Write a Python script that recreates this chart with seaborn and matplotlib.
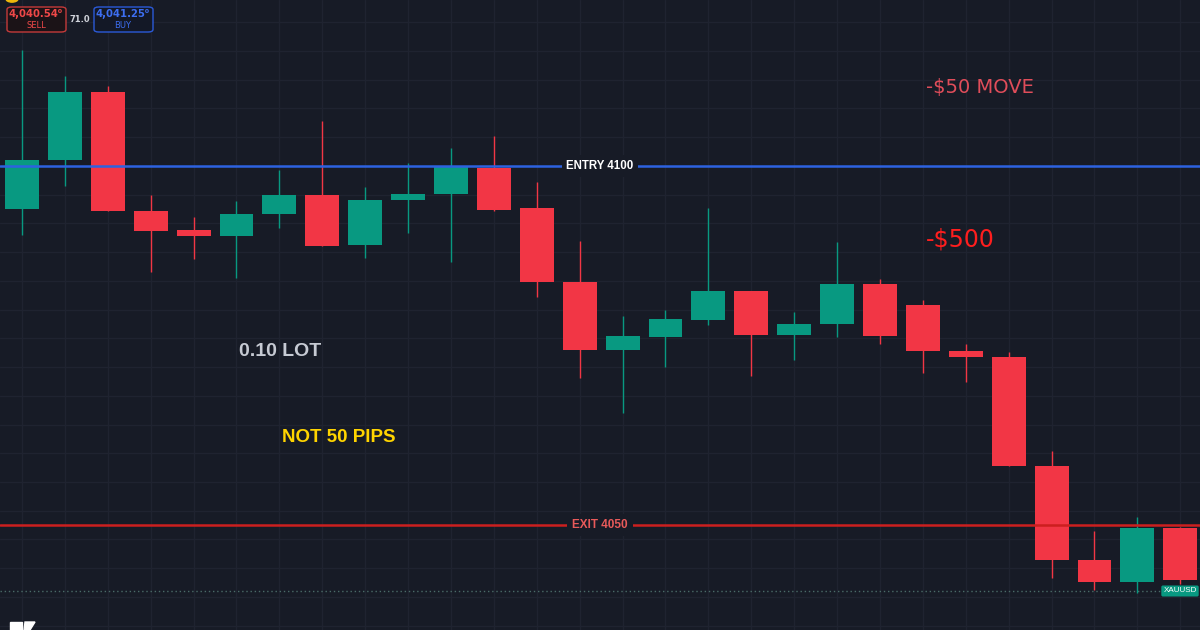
import numpy as np
import seaborn as sns
import matplotlib.pyplot as plt
from matplotlib.patches import FancyBboxPatch, Circle, Polygon

# candle data (XAUUSD)
opens = [4094.0, 4100.8, 4110.3, 4093.7, 4091.1, 4090.3, 4093.3, 4096.0, 4089.0, 4095.3,
         4096.1, 4099.7, 4094.2, 4083.8, 4074.4, 4076.2, 4078.6, 4082.6, 4076.5, 4078.0,
         4083.6, 4080.6, 4074.2, 4073.4, 4058.2, 4045.1, 4042.1, 4049.6]
highs = [4116.2, 4112.5, 4111.1, 4096.0, 4092.9, 4095.1, 4099.4, 4106.3, 4097.1, 4100.4,
         4102.5, 4104.2, 4097.8, 4089.5, 4079.1, 4080.0, 4094.2, 4082.6, 4079.7, 4089.4,
         4084.3, 4081.3, 4075.2, 4074.1, 4060.3, 4049.2, 4051.1, 4049.7]
lows = [4090.4, 4097.2, 4093.7, 4085.2, 4087.1, 4084.4, 4091.4, 4088.9, 4087.2, 4090.7,
        4086.6, 4093.7, 4081.8, 4070.5, 4065.6, 4072.0, 4077.9, 4070.8, 4073.0, 4076.2,
        4075.2, 4071.2, 4069.9, 4058.2, 4042.6, 4041.0, 4040.5, 4041.8]
closes = [4100.8, 4110.3, 4093.7, 4091.0, 4090.3, 4093.3, 4096.0, 4088.9, 4095.3, 4096.1,
          4099.9, 4093.9, 4083.8, 4074.4, 4076.3, 4078.7, 4082.6, 4076.5, 4078.0, 4083.6,
          4076.3, 4074.2, 4073.4, 4058.2, 4045.1, 4042.1, 4049.6, 4042.3]

entry_price = 4100
exit_price = 4050
last_price = 4040.8

BG = '#171b26'
GRID = '#1f2330'
UP = '#089981'
DOWN = '#f23645'

sns.set_theme(style='dark', rc={'axes.facecolor': BG, 'figure.facecolor': BG,
                                'grid.color': GRID})
plt.rcParams['font.family'] = ['DejaVu Sans']

fig = plt.figure(figsize=(12, 6.3), dpi=100)
ax = fig.add_axes([0, 0, 1, 1])

x = np.arange(len(opens))
o = np.array(opens)
c = np.array(closes)
colors = [UP if cc >= oo else DOWN for oo, cc in zip(o, c)]

# wicks and bodies
ax.vlines(x, lows, highs, colors=colors, lw=1, zorder=3)
ax.bar(x, np.maximum(np.abs(c - o), 0.6), bottom=np.minimum(o, c), width=0.79,
       color=colors, linewidth=0, zorder=4)

ax.set_xlim(-0.513, 27.46)
ax.set_ylim(4035.4, 4123.1)
ax.set_xticks(x)
ax.set_yticks(np.arange(4036, 4124, 4))
ax.grid(True, color=GRID, lw=1)
ax.tick_params(length=0, labelleft=False, labelbottom=False)
for s in ax.spines.values():
    s.set_visible(False)

# entry / exit lines
ax.axhline(entry_price, color='#2d62e0', lw=1.8, zorder=5)
ax.axhline(exit_price, color='#cc1f1f', lw=1.8, zorder=5)
ax.axhline(last_price, color='#4a6b68', lw=1, ls=(0, (1, 2)), zorder=2)

T = ax.transAxes
def px(xp, yp):
    return xp / 1200, 1 - yp / 630

ax.text(*px(600, 166), 'ENTRY 4100', transform=T, ha='center', va='center',
        color='white', fontsize=8.3, fontweight='bold', family='Liberation Sans',
        bbox=dict(facecolor=BG, edgecolor='none', pad=3.5), zorder=6)
ax.text(*px(600, 525), 'EXIT 4050', transform=T, ha='center', va='center',
        color='#e85a5a', fontsize=8.5, fontweight='bold', family='Liberation Sans',
        bbox=dict(facecolor=BG, edgecolor='none', pad=3.5), zorder=6)

ax.text(*px(926, 87), '-$50 MOVE', transform=T, ha='left', va='center',
        color='#e04d5a', fontsize=14)
ax.text(*px(926, 240), '-$500', transform=T, ha='left', va='center',
        color='#ff1e1e', fontsize=17)
ax.text(*px(239, 351), '0.10 LOT', transform=T, ha='left', va='center',
        color='#c6cad3', fontsize=14, fontweight='bold', family='Liberation Sans')
ax.text(*px(282, 438), 'NOT 50 PIPS', transform=T, ha='left', va='center',
        color='#ffd400', fontsize=13.5, fontweight='bold', family='Liberation Sans')

# top-left sell / buy widget
for x0, col, fill, txtcol, price, lab in [(7, '#c43a3a', '#1b1317', '#f04848', '4,040.54', 'SELL'),
                                          (94, '#2b5ad8', '#131826', '#3d6ef0', '4,041.25', 'BUY')]:
    bx, by = px(x0, 32)
    ax.add_patch(FancyBboxPatch((bx, by), 59 / 1200, 25 / 630, transform=T,
                                boxstyle='round,pad=0,rounding_size=0.004',
                                facecolor=fill, edgecolor=col, lw=1, zorder=7))
    ax.text(*px(x0 + 29, 14), price + '\u2070', transform=T, ha='center', va='center',
            color=txtcol, fontsize=7.2, fontweight='bold', zorder=8)
    ax.text(*px(x0 + 29, 25), lab, transform=T, ha='center', va='center',
            color=txtcol, fontsize=6, zorder=8)
ax.text(*px(80, 20), '71.0', transform=T, ha='center', va='center',
        color='#d0d3da', fontsize=6, fontweight='bold', zorder=8)
ax.add_patch(Circle(px(12, -1), 6 / 1200, transform=T, color='#f0b90b', zorder=8,
                    clip_on=False))

# symbol tag on the right
ax.text(*px(1180, 591), 'XAUUSD', transform=T, ha='center', va='center',
        color='white', fontsize=5.8, family='Liberation Sans',
        bbox=dict(facecolor=UP, edgecolor='none', pad=1.5,
                  boxstyle='round,pad=0.25,rounding_size=0.2'), zorder=8)

# logo stub bottom-left (shape, cut off by the frame)
ax.add_patch(Polygon([px(10, 622), px(22, 622), px(22, 630), px(10, 630)],
                     closed=True, transform=T, color='white', zorder=8))
ax.add_patch(Polygon([px(25, 622), px(35, 622), px(30, 630), px(24, 630)],
                     closed=True, transform=T, color='white', zorder=8))

fig.savefig('out.png', dpi=100, facecolor=BG)
